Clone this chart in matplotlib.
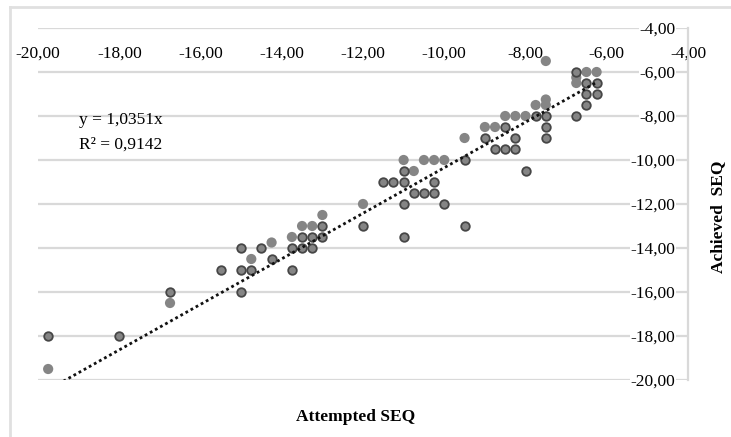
import matplotlib
matplotlib.use('Agg')
import matplotlib.pyplot as plt
from matplotlib.lines import Line2D
from matplotlib.ticker import FuncFormatter

plt.rcParams['font.family'] = ['Liberation Serif', 'DejaVu Serif']

# ─── Data ───────────────────────────────────────────────────────────────────
# points drawn with a dark outline
x_outl = [-19.75, -18, -16.75, -15.5, -15, -15, -15, -14.75, -14.5, -14.25,
          -13.75, -13.75, -13.5, -13.5, -13.25, -13.25, -13, -13, -12,
          -11.5, -11.25, -11, -11, -11, -11, -10.75, -10.5, -10.25, -10.25,
          -10, -9.5, -9.5, -9, -8.75, -8.5, -8.5, -8.25, -8.25, -8, -7.75,
          -7.5, -7.5, -7.5, -6.75, -6.75, -6.5, -6.5, -6.5, -6.25, -6.25]
y_outl = [-18, -18, -16, -15, -14, -15, -16, -15, -14, -14.5,
          -14, -15, -13.5, -14, -13.5, -14, -13, -13.5, -13,
          -11, -11, -10.5, -11, -12, -13.5, -11.5, -11.5, -11, -11.5,
          -12, -10, -13, -9, -9.5, -8.5, -9.5, -9, -9.5, -10.5, -8,
          -8, -8.5, -9, -6, -8, -6.5, -7, -7.5, -6.5, -7]
# points drawn without outline
x_fill = [-19.75, -16.75, -14.75, -14.25, -13.75, -13.5, -13.25, -13, -12,
          -11, -10.75, -10.5, -10.25, -10, -9.5, -9, -8.75, -8.5, -8.25, -8,
          -7.75, -7.5, -7.5, -7.5, -6.75, -6.75, -6.5, -6.25]
y_fill = [-19.5, -16.5, -14.5, -13.75, -13.5, -13, -13, -12.5, -12,
          -10, -10.5, -10, -10, -10, -9, -8.5, -8.5, -8, -8, -8,
          -7.5, -5.5, -7.25, -7.5, -6.25, -6.5, -6, -6]

SLOPE = 1.0351
R2 = 0.9142
ticks = [-20, -18, -16, -14, -12, -10, -8, -6, -4]

GRID = '#d9d9d9'
PT = '#858585'

fig = plt.figure(figsize=(7.31, 4.37), dpi=100)
ax = fig.add_axes([38 / 731, 1 - 380 / 437, 650 / 731, 352 / 437])

# outer frame (left and top edges only visible)
fig.add_artist(Line2D([10 / 731, 10 / 731], [0, 1 - 7 / 437], color='#e0e0e0', lw=2))
fig.add_artist(Line2D([10 / 731, 1], [1 - 7 / 437, 1 - 7 / 437], color='#e0e0e0', lw=2))

ax.set_xlim(-20, -4)
ax.set_ylim(-20, -4)
ax.set_xticks(ticks)
ax.set_yticks(ticks)
fmt = FuncFormatter(lambda v, p: f'{v:.2f}'.replace('.', ','))
ax.xaxis.set_major_formatter(fmt)
ax.yaxis.set_major_formatter(fmt)

ax.grid(axis='y', color=GRID, lw=1.6, zorder=0)
ax.set_axisbelow(True)

for s in ['top', 'right']:
    ax.spines[s].set_visible(False)
ax.spines['bottom'].set_position(('data', -4))
ax.spines['bottom'].set_visible(False)
ax.spines['left'].set_position(('data', -4))
ax.spines['left'].set_color(GRID)
ax.spines['left'].set_linewidth(1.6)

ax.tick_params(axis='x', length=0, pad=12.5, labelsize=12.5)
ax.tick_params(axis='y', length=0, pad=9, labelsize=12.5)
for lbl in ax.get_yticklabels():
    lbl.set_bbox(dict(facecolor='white', edgecolor='none', pad=0.5))

# trend line through origin, over the data x range
xmin, xmax = min(x_outl + x_fill), max(x_outl + x_fill)
ax.plot([xmin, xmax], [SLOPE * xmin, SLOPE * xmax], color='#111111',
        lw=2, ls=(0, (1, 1.1)), zorder=4)

ax.scatter(x_fill, y_fill, s=54, color=PT, edgecolors='none', zorder=3,
           clip_on=False)
ax.scatter(x_outl, y_outl, s=38, color=PT, edgecolors='#464646',
           linewidths=1.3, zorder=3, clip_on=False)

ax.text(-18.98, -8.2, f'y = {SLOPE:.4f}x'.replace('.', ','), fontsize=12.5,
        va='center', ha='left')
ax.text(-18.98, -9.3, f'R² = {R2:.4f}'.replace('.', ','), fontsize=12.5,
        va='center', ha='left')

fig.text(356 / 731, 1 - 417 / 437, 'Attempted SEQ', fontsize=12.5,
         fontweight='bold', ha='center', va='center')
fig.text(718 / 731, 1 - 217 / 437, 'Achieved  SEQ', fontsize=12.5,
         fontweight='bold', ha='center', va='center', rotation=90)

fig.savefig('out.png', dpi=100, facecolor='white')
